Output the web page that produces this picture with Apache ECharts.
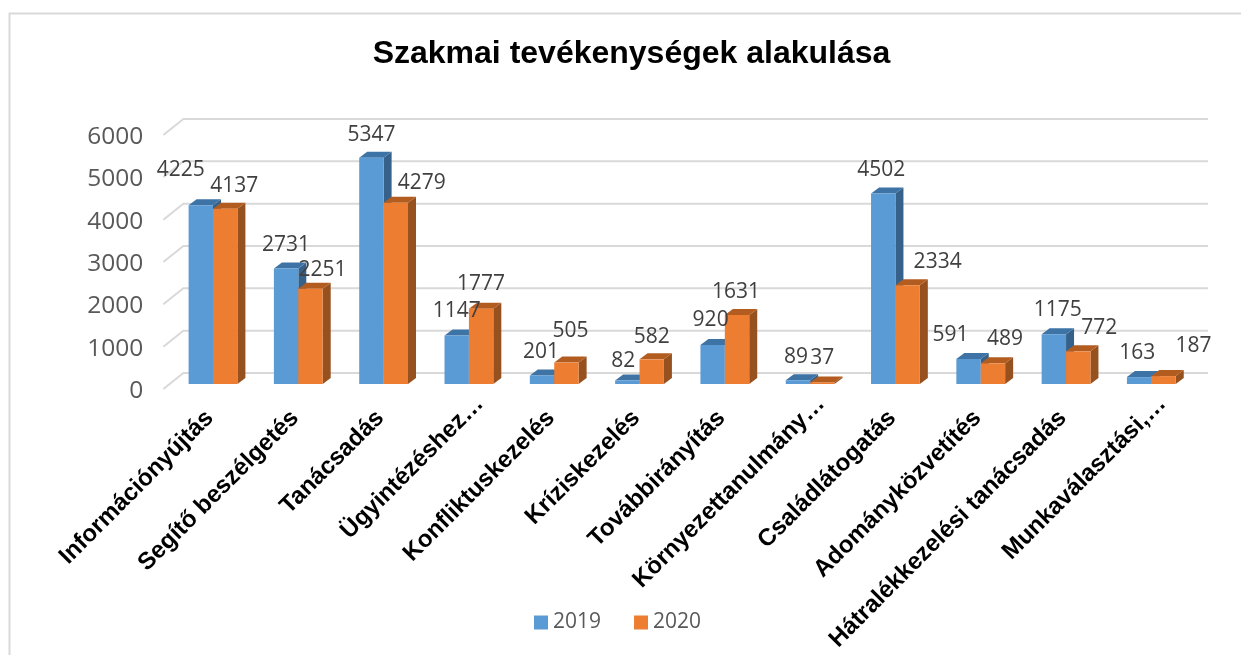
<!DOCTYPE html>
<html><head><meta charset="utf-8">
<style>html,body{margin:0;padding:0;background:#fff}#c{width:1241px;height:655px}</style>
<script src="https://cdn.jsdelivr.net/npm/echarts@6/dist/echarts.min.js"></script>
</head><body><div id="c"></div>
<script>
const categories = ['Információnyújtás','Segítő beszélgetés','Tanácsadás','Ügyintézéshez…','Konfliktuskezelés','Kríziskezelés','Továbbirányítás','Környezettanulmány…','Családlátogatás','Adományközvetítés','Hátralékkezelési tanácsadás','Munkaválasztási,…'];
const values2019 = [4225,2731,5347,1147,201,82,920,89,4502,591,1175,163];
const values2020 = [4137,2251,4279,1777,505,582,1631,37,2334,489,772,187];
const yTicks = [0,1000,2000,3000,4000,5000,6000];
// hand-placed data label nudges, relative to the top centre of each bar
const labelNudge2019 = [[-20,-35],[0,-23],[0,-23],[0,-24],[-1,-23],[-4,-20],[-2,-25],[-2,-23],[-2,-23],[-18,-24],[4,-24],[-2,-24]];
const labelNudge2020 = [[9,-23],[12,-19],[26,-20],[0,-25],[4,-32],[0,-22],[-1,-23],[0,-24],[30,-23],[12,-24],[21,-23],[30,-30]];

const chart = echarts.init(document.getElementById('c'), null, {renderer:'canvas'});
const DX = 8, DY = 6, BW = 24.4;

function barSeries(name, vals, nudges, front, top, side, dir) {
  return {
    type:'custom', name, z:5, xAxisIndex:0, yAxisIndex:0,
    itemStyle:{color:front},
    data: vals.map((v,i)=>[i,v]),
    encode:{x:0,y:1},
    renderItem(params, api){
      const i = api.value(0), v = api.value(1);
      const p = api.coord([i,v]), b = api.coord([i,0]);
      const x0 = dir < 0 ? p[0]-BW : p[0], x1 = x0+BW;
      const n = nudges[i];
      return {type:'group', children:[
        {type:'polygon', shape:{points:[[x1,p[1]],[x1+DX,p[1]-DY],[x1+DX,b[1]-DY],[x1,b[1]]]}, style:{fill:side}},
        {type:'polygon', shape:{points:[[x0,p[1]],[x0+DX,p[1]-DY],[x1+DX,p[1]-DY],[x1,p[1]]]}, style:{fill:top}},
        {type:'rect', shape:{x:x0,y:p[1],width:BW,height:b[1]-p[1]}, style:{fill:front}},
        {type:'text', z2:50, style:{text:String(v), x:(x0+x1)/2+n[0], y:p[1]+n[1], align:'center', verticalAlign:'middle', font:'21px "Open Sans"', fill:'#404040'}}
      ]};
    }
  };
}

chart.setOption({
  animation:false,
  backgroundColor:'#fff',
  title:{text:'Szakmai tevékenységek alakulása', left:631.5, top:38, padding:0, textAlign:'center', textStyle:{fontFamily:'Liberation Sans', fontWeight:'bold', fontSize:32, color:'#000'}},
  legend:{data:['2019','2020'], left:534, top:612, padding:0, itemWidth:14, itemHeight:14, itemGap:33, icon:'rect', textStyle:{fontFamily:'Open Sans', fontSize:21, color:'#595959'}},
  // grid 0 holds the bars; grid 1 only carries the slanted category labels, which sit to the right of the bars
  grid:[{left:170.35, right:47, top:130, bottom:271},{left:183.35, right:34, top:130, bottom:271}],
  graphic:[{type:'polyline', silent:true, z:-1, shape:{points:[[9.5,660],[9.5,13.5],[1245,13.5]]}, style:{fill:'none', stroke:'#d9d9d9', lineWidth:2}}],
  xAxis:[
    {type:'category', gridIndex:0, data:categories, axisLine:{show:false}, axisTick:{show:false}, splitLine:{show:false}, axisLabel:{show:false}},
    {type:'category', gridIndex:1,
     data:categories.map(c=>({value:c, textStyle:{padding:c.endsWith('…') ? [0,3,0,0] : [0,23,0,0]}})),
     axisLine:{show:false}, axisTick:{show:false}, splitLine:{show:false},
     axisLabel:{rotate:45, interval:0, margin:14, fontFamily:'Liberation Sans', fontWeight:'bold', fontSize:24, color:'#000'}}
  ],
  yAxis:[
    {type:'value', gridIndex:0, min:0, max:6000, interval:1000, axisLine:{show:false}, axisTick:{show:false}, splitLine:{show:false},
     axisLabel:{margin:27, fontFamily:'Open Sans', fontSize:24.5, color:'#595959', verticalAlign:'top', lineHeight:14, formatter:v=>String(v)}},
    {type:'value', gridIndex:1, min:0, max:6000, show:false}
  ],
  series:[
    {type:'custom', silent:true, z:1, xAxisIndex:0, yAxisIndex:0, data:yTicks.map(v=>[0,v]), encode:{x:0,y:1},
     renderItem(params, api){
       const y = api.coord([0,api.value(1)])[1];
       const cs = params.coordSys;
       const st = {stroke:'#d9d9d9', lineWidth:2, fill:'none'};
       return {type:'polyline', shape:{points:[[cs.x-7,y+5],[cs.x+13,y-11],[cs.x+cs.width+14,y-11]]}, style:st};
     }},
    barSeries('2019', values2019, labelNudge2019, '#5B9BD5', '#3E73A6', '#35618A', -1),
    barSeries('2020', values2020, labelNudge2020, '#ED7D31', '#B35C20', '#96511F', 1)
  ]
});
</script></body></html>
